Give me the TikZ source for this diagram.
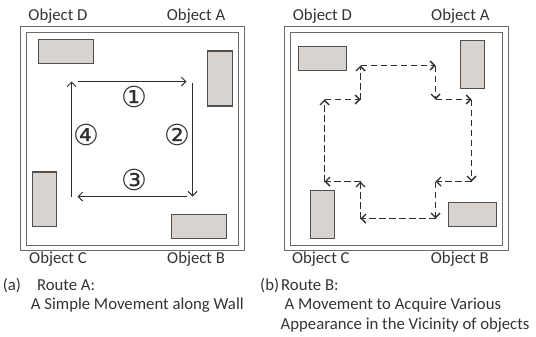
\documentclass[tikz,border=0pt]{standalone}
\usepackage{fontspec}
\setmainfont{Carlito}
\newfontfamily\symfont{DejaVu Sans}
\usetikzlibrary{arrows.meta}
\definecolor{txt}{HTML}{333333}
\definecolor{wall}{HTML}{6A6A6A}
\definecolor{objfill}{HTML}{D9D3D0}
\definecolor{objline}{HTML}{505050}
\definecolor{route}{HTML}{2E2E2E}
\tikzset{
  lbl/.style={anchor=base west, inner sep=0pt, text=txt, font=\fontsize{16.8}{18}\selectfont},
  num/.style={inner sep=0pt, text=route, font=\symfont\fontsize{29}{30}\selectfont},
  wallline/.style={draw=wall, line width=1.1bp},
  obj/.style={draw=objline, fill=objfill, line width=1.1bp, inner sep=0pt},
  solidroute/.style={draw=route, line width=1bp, -{Straight Barb[length=4.5bp,width=9bp]}},
  dashroute/.style={draw=route, line width=1.8bp, dash pattern=on 6.5bp off 3.5bp,
    -{Straight Barb[length=4.5bp,width=9bp,line width=1.4bp]}},
}
\begin{document}
\begin{tikzpicture}[x=1bp,y=-1bp]
\useasboundingbox (0,0) rectangle (536,336);

% ---------- left panel: walls ----------
\draw[wallline] (20.5,26.5) rectangle (244.5,250.5);
\draw[wallline] (26.5,32.5) rectangle (238.5,245.5);

% objects
\node[obj, minimum width=55bp, minimum height=24.3bp] (aD) at (65.8,51.2) {};
\node[obj, minimum width=25bp, minimum height=55bp] (aA) at (220.2,78.5) {};
\node[obj, minimum width=24.4bp, minimum height=54.7bp] (aC) at (44.5,199.3) {};
\node[obj, minimum width=55.4bp, minimum height=24.4bp] (aB) at (199,226.5) {};

% corner labels
\node[lbl] (laD) at (28.3,20.7) {Object D};
\node[lbl] (laA) at (166.7,20.7) {Object A};
\node[lbl] (laC) at (29,263.9) {Object C};
\node[lbl] (laB) at (167,263.9) {Object B};

% route A
\coordinate (r1s) at (77.5,81.5);   \coordinate (r1e) at (186.5,81.5);
\coordinate (r2s) at (192.5,83);    \coordinate (r2e) at (192.5,196.5);
\coordinate (r3s) at (186.5,196.5); \coordinate (r3e) at (77.5,196.5);
\coordinate (r4s) at (71.5,196.5);  \coordinate (r4e) at (71.5,81.5);
\draw[solidroute] (r1s) -- (r1e);
\draw[solidroute] (r2s) -- (r2e);
\draw[solidroute] (r3s) -- (r3e);
\draw[solidroute] (r4s) -- (r4e);
\node[num] (n1) at (134,96.5) {①};
\node[num] (n2) at (177.7,135) {②};
\node[num] (n3) at (134,180) {③};
\node[num] (n4) at (86.7,135) {④};

% caption (a)
\node[lbl] (ca0) at (2.7,290.5) {(a)};
\node[lbl] (ca1) at (36.9,290.5) {Route A:};
\node[lbl] (ca2) at (30.7,309.3) {A Simple Movement along Wall};

% ---------- right panel: walls ----------
\draw[wallline] (284.5,26.5) rectangle (508.5,250.5);
\draw[wallline] (290.5,32.5) rectangle (502.5,245.5);

% objects
\node[obj, minimum width=48bp, minimum height=24bp] (bD) at (322.3,58.3) {};
\node[obj, minimum width=24.3bp, minimum height=48bp] (bA) at (472.2,64.3) {};
\node[obj, minimum width=24.3bp, minimum height=48.3bp] (bC) at (322.2,214.2) {};
\node[obj, minimum width=48.4bp, minimum height=24bp] (bB) at (472.5,214.3) {};

% corner labels
\node[lbl] (lbD) at (292.7,20.7) {Object D};
\node[lbl] (lbA) at (431,20.7) {Object A};
\node[lbl] (lbC) at (291.8,263.9) {Object C};
\node[lbl] (lbB) at (430.7,263.9) {Object B};

% route B corners
\coordinate (p1) at (360.5,65.5);
\coordinate (p2) at (435.5,65.5);
\coordinate (p3) at (435.5,99.5);
\coordinate (p4) at (471.5,99.5);
\coordinate (p5) at (471.5,181.5);
\coordinate (p6) at (435.5,181.5);
\coordinate (p7) at (435.5,218.5);
\coordinate (p8) at (360.5,218.5);
\coordinate (p9) at (360.5,181.5);
\coordinate (p10) at (324.5,181.5);
\coordinate (p11) at (324.5,99.5);
\coordinate (p12) at (360.5,99.5);
\draw[dashroute] (p1) -- (p2);
\draw[dashroute] (p2) -- (p3);
\draw[dashroute] (p3) -- (p4);
\draw[dashroute] (p4) -- (p5);
\draw[dashroute] (p5) -- (p6);
\draw[dashroute] (p6) -- (p7);
\draw[dashroute] (p7) -- (p8);
\draw[dashroute] (p8) -- (p9);
\draw[dashroute] (p9) -- (p10);
\draw[dashroute] (p10) -- (p11);
\draw[dashroute] (p11) -- (p12);
\draw[dashroute] (p12) -- (p1);

% caption (b)
\node[lbl] (cb0) at (260,290.5) {(b)};
\node[lbl] (cb1) at (281,290.5) {Route B:};
\node[lbl] (cb2) at (284.5,309.3) {A Movement to Acquire Various};
\node[lbl] (cb3) at (280.5,329.4) {Appearance in the Vicinity of objects};
\end{tikzpicture}
\end{document}
